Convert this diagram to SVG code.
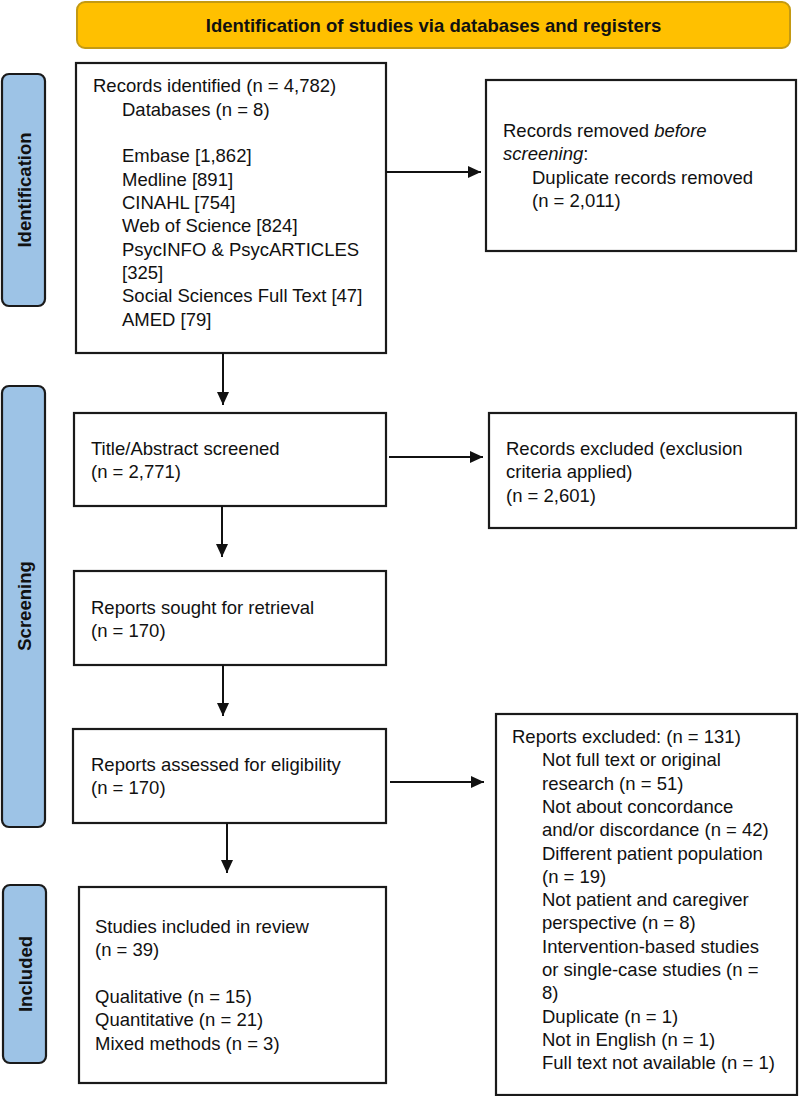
<svg xmlns="http://www.w3.org/2000/svg" width="799" height="1096" viewBox="0 0 799 1096">
<style>
text{font-family:"Liberation Sans",Arial,sans-serif;font-size:18.5px;fill:#111}
.box{fill:#fff;stroke:#1a1a1a;stroke-width:2.2}
.side{fill:#9DC3E6;stroke:#1a1a1a;stroke-width:2.2}
.sidet{font-weight:bold;text-anchor:middle;dominant-baseline:central}
.hdr{fill:#FFC000;stroke:#C49A12;stroke-width:2}
.conn{stroke:#111;stroke-width:2;fill:none;marker-end:url(#ah)}
</style>
<defs>
<marker id="ah" markerUnits="userSpaceOnUse" viewBox="0 0 13 12" refX="13" refY="6" markerWidth="13" markerHeight="12" orient="auto">
<path d="M0,0 L13,6 L0,12 z" fill="#111"/>
</marker>
</defs>
<g id="header">
<rect class="hdr" x="77" y="2" width="713" height="46" rx="8"/>
<text x="433.5" y="32" text-anchor="middle" font-weight="bold">Identification of studies via databases and registers</text>
</g>
<g id="side-identification">
<rect class="side" x="2" y="74" width="43" height="232" rx="7"/>
<text class="sidet" transform="translate(24,190) rotate(-90)">Identification</text>
</g>
<g id="side-screening">
<rect class="side" x="2" y="386" width="43" height="441" rx="7"/>
<text class="sidet" transform="translate(24,606) rotate(-90)">Screening</text>
</g>
<g id="side-included">
<rect class="side" x="3" y="885" width="43" height="178" rx="7"/>
<text class="sidet" transform="translate(25,974) rotate(-90)">Included</text>
</g>
<g id="records-identified">
<rect class="box" x="76" y="63" width="310" height="290"/>
<text x="93" y="92.3">Records identified (n = 4,782)</text>
<text x="122" y="115.6">Databases (n = 8)</text>
<text x="122" y="162.3">Embase [1,862]</text>
<text x="122" y="185.6">Medline [891]</text>
<text x="122" y="209">CINAHL [754]</text>
<text x="122" y="232.3">Web of Science [824]</text>
<text x="122" y="255.6">PsycINFO &amp; PsycARTICLES</text>
<text x="122" y="279">[325]</text>
<text x="122" y="302.3">Social Sciences Full Text [47]</text>
<text x="122" y="325.6">AMED [79]</text>
</g>
<g id="records-removed">
<rect class="box" x="486" y="80" width="310" height="171"/>
<text x="503" y="137">Records removed <tspan font-style="italic">before</tspan></text>
<text x="503" y="160.3"><tspan font-style="italic">screening</tspan>:</text>
<text x="532" y="183.6">Duplicate records removed</text>
<text x="532" y="207">(n = 2,011)</text>
</g>
<g id="title-abstract">
<rect class="box" x="74" y="413" width="312" height="93"/>
<text x="91" y="455">Title/Abstract screened</text>
<text x="91" y="478.3">(n = 2,771)</text>
</g>
<g id="records-excluded">
<rect class="box" x="489" y="413" width="307" height="115"/>
<text x="506" y="455">Records excluded (exclusion</text>
<text x="506" y="478.3">criteria applied)</text>
<text x="506" y="501.6">(n = 2,601)</text>
</g>
<g id="reports-sought">
<rect class="box" x="74" y="571" width="312" height="94"/>
<text x="91" y="614">Reports sought for retrieval</text>
<text x="91" y="637.3">(n = 170)</text>
</g>
<g id="reports-assessed">
<rect class="box" x="73" y="729" width="313" height="94"/>
<text x="91" y="771">Reports assessed for eligibility</text>
<text x="91" y="794.3">(n = 170)</text>
</g>
<g id="reports-excluded">
<rect class="box" x="496" y="714" width="301" height="381"/>
<text x="512" y="743">Reports excluded: (n = 131)</text>
<text x="542" y="766.3">Not full text or original</text>
<text x="542" y="789.6">research (n = 51)</text>
<text x="542" y="812.9">Not about concordance</text>
<text x="542" y="836.2">and/or discordance (n = 42)</text>
<text x="542" y="859.5">Different patient population</text>
<text x="542" y="882.8">(n = 19)</text>
<text x="542" y="906.1">Not patient and caregiver</text>
<text x="542" y="929.4">perspective (n = 8)</text>
<text x="542" y="952.7">Intervention-based studies</text>
<text x="542" y="976">or single-case studies (n =</text>
<text x="542" y="999.3">8)</text>
<text x="542" y="1022.6">Duplicate (n = 1)</text>
<text x="542" y="1045.9">Not in English (n = 1)</text>
<text x="542" y="1069.2">Full text not available (n = 1)</text>
</g>
<g id="studies-included">
<rect class="box" x="79" y="887" width="307" height="196"/>
<text x="95" y="933">Studies included in review</text>
<text x="95" y="956.3">(n = 39)</text>
<text x="95" y="1003">Qualitative (n = 15)</text>
<text x="95" y="1026.3">Quantitative (n = 21)</text>
<text x="95" y="1049.6">Mixed methods (n = 3)</text>
</g>
<g id="connectors">
<line class="conn" x1="386" y1="172" x2="481" y2="172"/>
<line class="conn" x1="223" y1="353" x2="223" y2="405"/>
<line class="conn" x1="389" y1="457" x2="483" y2="457"/>
<line class="conn" x1="222" y1="506" x2="222" y2="557"/>
<line class="conn" x1="223" y1="665" x2="223" y2="716"/>
<line class="conn" x1="390" y1="782" x2="484" y2="782"/>
<line class="conn" x1="227" y1="823" x2="227" y2="873"/>
</g>
</svg>
